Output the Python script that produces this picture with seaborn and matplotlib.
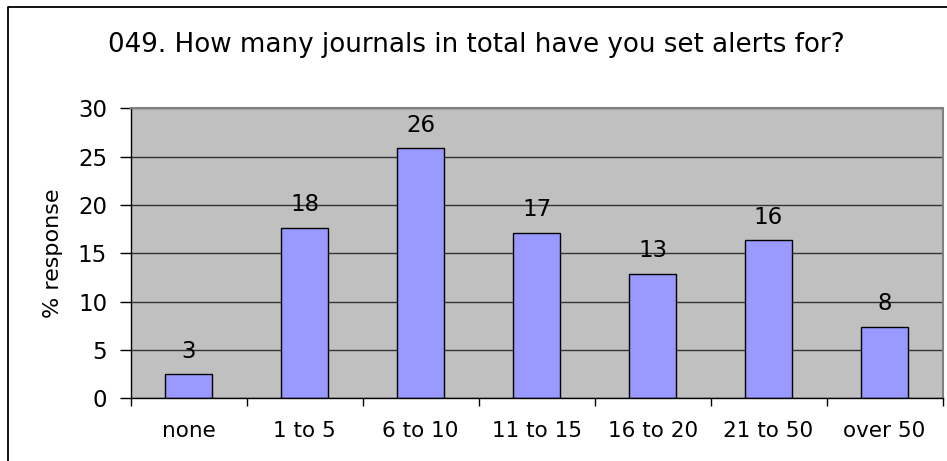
import matplotlib
matplotlib.use("Agg")
import matplotlib.pyplot as plt
import seaborn as sns
import pandas as pd
from matplotlib.lines import Line2D

# data
categories = ["none", "1 to 5", "6 to 10", "11 to 15", "16 to 20", "21 to 50", "over 50"]
response = [2.48, 17.66, 25.86, 17.13, 12.86, 16.34, 7.38]
labels = ["3", "18", "26", "17", "13", "16", "8"]

title = "049. How many journals in total have you set alerts for?"

df = pd.DataFrame({"cat": categories, "pct": response})

sns.set_theme(style="white")
plt.rcParams["font.family"] = ["DejaVu Sans"]
plt.rcParams["text.color"] = "black"
plt.rcParams["axes.labelcolor"] = "black"
plt.rcParams["xtick.color"] = "black"
plt.rcParams["ytick.color"] = "black"

W, H = 947, 461
fig = plt.figure(figsize=(W / 100, H / 100), dpi=100)

# outer chart border: only top and left edges fall inside the crop
fig.lines.append(Line2D([7.5 / W, 7.5 / W, 1], [0, 1 - 7.5 / H, 1 - 7.5 / H],
                        transform=fig.transFigure, color="black", linewidth=1.3))

ax = fig.add_axes([130.7 / W, (H - 398.3) / H, (942.5 - 130.7) / W, (398.3 - 108.3) / H])
ax.set_facecolor("#C0C0C0")

sns.barplot(data=df, x="cat", y="pct", ax=ax, color="#9999FF", width=0.4,
            edgecolor="black", linewidth=1.0, saturation=1)

for i, (v, lab) in enumerate(zip(response, labels)):
    ax.text(i, v + 1.2, lab, ha="center", va="bottom", fontsize=16.5, color="black")

ax.set_ylim(0, 30)
ax.set_xlim(-0.5, 6.5)
ax.set_yticks(range(0, 31, 5))
ax.yaxis.grid(True, color="#333333", linewidth=1.0)
ax.set_axisbelow(True)

ax.spines["top"].set_color("#808080")
ax.spines["right"].set_color("#808080")
ax.spines["top"].set_linewidth(1.5)
ax.spines["right"].set_linewidth(1.5)
ax.spines["left"].set_color("black")
ax.spines["bottom"].set_color("black")
ax.spines["left"].set_linewidth(1.0)
ax.spines["bottom"].set_linewidth(1.0)

ax.set_xticks(range(len(categories)))
ax.set_xticklabels(categories)
ax.set_xticks([i - 0.5 for i in range(len(categories) + 1)], minor=True)
ax.tick_params(axis="x", which="major", length=0, pad=16, labelsize=15.5)
ax.tick_params(axis="x", which="minor", length=6, width=1, color="black", direction="out")
ax.tick_params(axis="y", length=8, width=1, color="black", direction="out", labelsize=16.5, pad=9)
ax.tick_params(bottom=True, left=True, which="both")
ax.set_xlabel("")
ax.set_ylabel("% response", fontsize=16, labelpad=11)

fig.text(476 / W, 1 - 45 / H, title, ha="center", va="center", fontsize=18.8)

fig.savefig("out.png", dpi=100)
